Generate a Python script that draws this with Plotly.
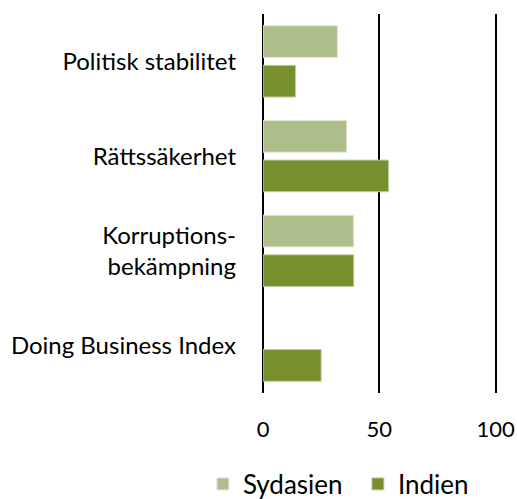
import plotly.graph_objects as go

categories = ["Politisk stabilitet", "Rättssäkerhet", "Korruptions-<br>bekämpning", "Doing Business Index"]
sydasien = [32, 36, 39, None]
indien = [14, 54, 39, 25]
x_ticks = [0, 50, 100]

FONT = "Lato"
W, H = 517, 499
L, T = 263, 14
PLOT_H = 379
PLOT_W = 234.6

fig = go.Figure()
fig.add_trace(go.Bar(y=categories, x=sydasien, name="Sydasien", orientation="h",
                     marker=dict(color="#AEBE8B", line=dict(color="#E4EAD8", width=1))))
fig.add_trace(go.Bar(y=categories, x=indien, name="Indien", orientation="h",
                     marker=dict(color="#778F2C", line=dict(color="#C3CFA0", width=1))))

fig.update_layout(
    width=W, height=H,
    margin=dict(l=L, r=W - L - PLOT_W, t=T, b=H - T - PLOT_H, autoexpand=False),
    plot_bgcolor="white", paper_bgcolor="white",
    barmode="group", bargap=0.164, bargroupgap=0.2,
    font=dict(family=FONT, size=24, color="black"),
    legend=dict(orientation="h", x=(203 - 263) / PLOT_W, xanchor="left",
                y=-(484 - 393) / PLOT_H, yanchor="middle",
                traceorder="normal", font=dict(size=26),
                itemwidth=30, entrywidth=110, entrywidthmode="pixels"),
    showlegend=True,
)
fig.update_xaxes(range=[0, 101], tickvals=x_ticks, showgrid=True, gridcolor="black",
                 gridwidth=1.5, zeroline=True, zerolinecolor="black", zerolinewidth=1.5,
                 showline=False, ticks="", ticklabelstandoff=21, tickfont=dict(size=22),
                 automargin=False)
fig.update_yaxes(autorange="reversed", showgrid=False, showline=False, ticks="",
                 ticklabelstandoff=26, tickfont=dict(size=24), automargin=False)

fig.write_html("out.html", config={"displayModeBar": False},
               post_script="document.body.style.margin='0';document.body.style.overflow='hidden';")
